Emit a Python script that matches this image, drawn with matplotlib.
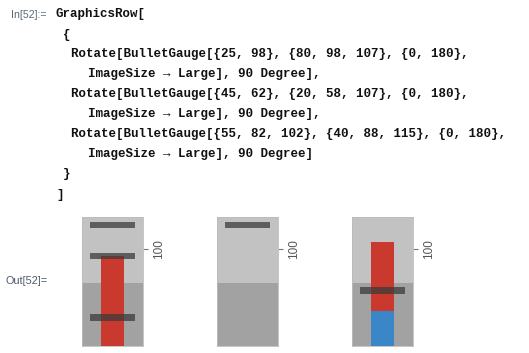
import matplotlib
matplotlib.use("Agg")
import matplotlib.pyplot as plt

# gauge data, as typed in the notebook cell
gauge_values = [[25, 98], [45, 62], [55, 82, 102]]
gauge_markers = [[80, 98, 107], [20, 58, 107], [40, 88, 115]]
gauge_range = [0, 180]
band_edges = [0, 90, 180]
tick_values = [100]
visible_window = [71.8, 109.3]   # the output cell only shows this slice

code_lines = [
    "GraphicsRow[",
    "{",
    "Rotate[BulletGauge[{25, 98}, {80, 98, 107}, {0, 180},",
    "ImageSize \u2192 Large], 90 Degree],",
    "Rotate[BulletGauge[{45, 62}, {20, 58, 107}, {0, 180},",
    "ImageSize \u2192 Large], 90 Degree],",
    "Rotate[BulletGauge[{55, 82, 102}, {40, 88, 115}, {0, 180},",
    "ImageSize \u2192 Large], 90 Degree]",
    "}",
    "]",
]

W, H = 529, 353
fig = plt.figure(figsize=(W / 100, H / 100), dpi=100)
fig.patch.set_facecolor("white")

def fx(px):
    return px / W

def fy(py):
    return 1 - py / H

# input cell text
line_x = [55, 63, 71, 88, 71, 88, 71, 88, 63, 56]
line_y = [14, 35, 54, 74, 94, 114, 134, 154, 174, 195]
for txt, x, y in zip(code_lines, line_x, line_y):
    fig.text(fx(x), fy(y), txt, ha="left", va="center", fontsize=9,
             family=["Liberation Mono", "DejaVu Sans Mono"], weight="bold",
             color="#111111")

fig.text(fx(11), fy(14.5), "In[52]:=", ha="left", va="center", fontsize=7.6,
         family="Liberation Sans", color="#5b6877")
fig.text(fx(6), fy(281), "Out[52]=", ha="left", va="center", fontsize=7.8,
         family="Liberation Sans", color="#4c5866")

band_colors = ["#a2a2a2", "#c2c2c2"]
bar_colors = ["#c9392d", "#3b86c6", "#e39b3d"]   # last value first
bar_w = 23 / 61
mark_w = 45 / 61
mark_h = 1.95

panel_left = [82, 217, 351.5]
panel_w = 61
panel_top, panel_bot = 217, 346

for i in range(len(gauge_values)):
    ax = fig.add_axes([fx(panel_left[i]), fy(panel_bot),
                       panel_w / W, (panel_bot - panel_top) / H])
    # qualitative bands
    for j in range(len(band_edges) - 1):
        ax.bar(0.5, band_edges[j + 1] - band_edges[j], width=1.0,
               bottom=band_edges[j], color=band_colors[j], zorder=1)
    # value bars, biggest drawn first
    vals = gauge_values[i]
    order = sorted(range(len(vals)), key=lambda k: -vals[k])
    for k in order:
        c = bar_colors[len(vals) - 1 - k]
        ax.bar(0.5, vals[k] - gauge_range[0], width=bar_w,
               bottom=gauge_range[0], color=c, zorder=2)
    # markers
    for m in gauge_markers[i]:
        ax.bar(0.5, mark_h, width=mark_w, bottom=m - mark_h / 2,
               color="#3c3c3c", alpha=0.75, zorder=3)
    ax.set_xlim(0, 1)
    ax.set_ylim(visible_window)
    ax.set_xticks([])
    ax.yaxis.tick_right()
    ax.set_yticks(tick_values)
    ax.set_yticklabels([str(t) for t in tick_values], rotation=90,
                       va="center", family="Liberation Sans", fontsize=8.5,
                       color="#555555")
    ax.tick_params(axis="y", length=3.5, width=0.8, color="#777777", pad=4)
    for s in ax.spines.values():
        s.set_color("#bcbcbc")
        s.set_linewidth(0.6)

plt.savefig("out.png", dpi=100, facecolor="white")
